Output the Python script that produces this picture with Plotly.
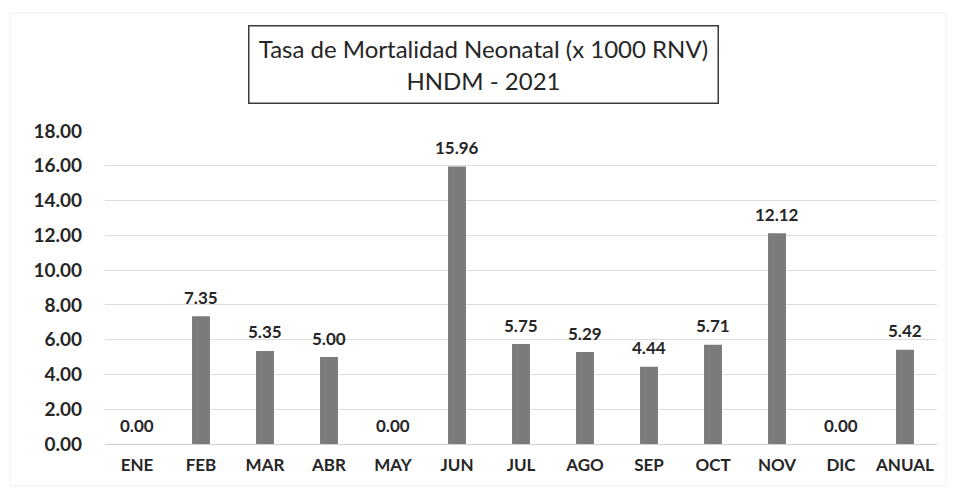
import plotly.graph_objects as go

categories = ["ENE", "FEB", "MAR", "ABR", "MAY", "JUN", "JUL", "AGO", "SEP", "OCT", "NOV", "DIC", "ANUAL"]
values = [0.00, 7.35, 5.35, 5.00, 0.00, 15.96, 5.75, 5.29, 4.44, 5.71, 12.12, 0.00, 5.42]
tick_vals = [0, 2, 4, 6, 8, 10, 12, 14, 16, 18]
title_text = "Tasa de Mortalidad Neonatal (x 1000 RNV)<br>HNDM - 2021"

FONT = "Lato, 'Open Sans', sans-serif"
OFF = 8  # page body margin
W, H = 957 - 2 * OFF, 495 - 2 * OFF
# desired screen plot area: x 105..937, y 131..444
L = 105 - OFF
T = 131 - OFF
R = W - (937 - OFF)
B = H - (444 - OFF)
pw = W - L - R
ph = H - T - B


def px_x(sx):
    return (sx - OFF - L) / pw


def px_y(sy):
    return (H - B - (sy - OFF)) / ph


fig = go.Figure(go.Bar(
    x=categories, y=values,
    width=0.28,
    marker=dict(color="#7b7b7b", line=dict(width=0)),
    hoverinfo="x+y",
))

label_annotations = [
    dict(
        x=c, y=v, xref="x", yref="y",
        text=f"{v:.2f}", showarrow=False,
        xanchor="center", yanchor="middle",
        yshift=19,
        font=dict(family=FONT, size=17, color="#262626", weight="bold"),
    )
    for c, v in zip(categories, values)
]

title_annotation = dict(
    text=title_text, xref="paper", yref="paper",
    x=px_x(483), y=px_y(64),
    xanchor="center", yanchor="middle",
    showarrow=False, align="center",
    width=462, height=70,
    bordercolor="#3a3a3a", borderwidth=1.5, borderpad=3,
    bgcolor="white",
    font=dict(family=FONT, size=24, color="#262626"),
)

fig.update_layout(
    width=W, height=H,
    margin=dict(l=L, r=R, t=T, b=B, autoexpand=False),
    paper_bgcolor="white", plot_bgcolor="white",
    showlegend=False,
    font=dict(family=FONT, color="#262626"),
    xaxis=dict(
        automargin=False,
        showline=False, showgrid=False, ticks="",
        tickfont=dict(family=FONT, size=17, color="#262626", weight="bold"),
        ticklabelstandoff=9,
    ),
    yaxis=dict(
        automargin=False,
        range=[0, 18], tickvals=tick_vals,
        tickformat=".2f",
        showgrid=True, gridcolor="#dcdcdc", gridwidth=1,
        zeroline=True, zerolinecolor="#d0d0d0", zerolinewidth=1,
        showline=False, ticks="",
        tickfont=dict(family=FONT, size=19, color="#262626", weight="bold"),
        ticklabelstandoff=22,
    ),
    annotations=label_annotations + [title_annotation],
    shapes=[dict(
        type="rect", xref="paper", yref="paper",
        x0=px_x(10), x1=px_x(946),
        y0=px_y(486), y1=px_y(13),
        line=dict(color="#eeeeee", width=1),
    )],
)

fig.write_html("out.html")
